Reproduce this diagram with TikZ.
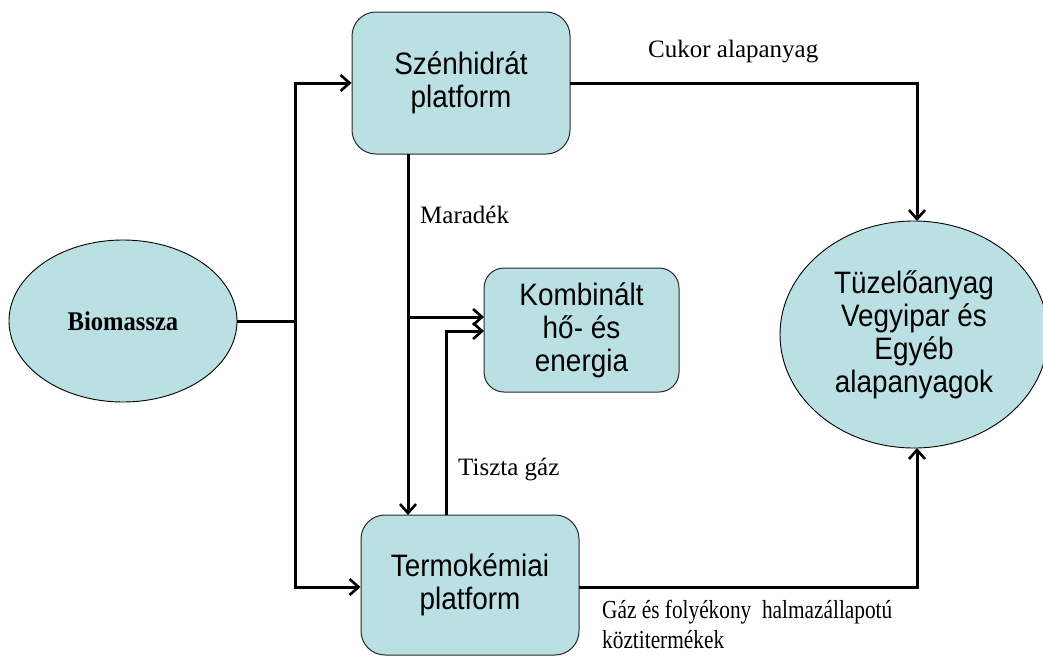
\documentclass[tikz,border=0pt]{standalone}
\usepackage{fontspec}
\setmainfont{Liberation Serif}
\newfontfamily\arialf[FakeStretch=0.9]{Liberation Sans}
\newfontfamily\condserif[FakeStretch=0.82]{Liberation Serif}
\newfontfamily\boldserif[FakeStretch=0.91]{Liberation Serif Bold}
\usetikzlibrary{arrows.meta,shapes.geometric}
\definecolor{boxfill}{RGB}{187,224,227}
\definecolor{boxline}{RGB}{40,40,40}
\tikzset{
  platbox/.style={draw=boxline, line width=1pt, fill=boxfill, rounded corners=24pt,
    align=center, inner sep=0pt, font=\arialf\fontsize{31}{33}\selectfont},
  oval/.style={ellipse, draw=black, line width=0.9pt, fill=boxfill, inner sep=0pt, align=center},
  conn/.style={line width=3pt, line join=miter},
  arr/.style={conn, -{Straight Barb[length=9pt,width=16pt,line width=2.6pt]}},
  lbl/.style={anchor=base west, inner sep=0pt, font=\fontsize{25}{29}\selectfont}
}
\begin{document}
\begin{tikzpicture}[x=1pt,y=-1pt]
\useasboundingbox (0,0) rectangle (1043,656);
% nodes
\node[oval, minimum width=228pt, minimum height=162pt, font=\boldserif\fontsize{27}{29}\selectfont] (bio) at (123,321) {Biomassza};
\node[platbox, minimum width=218pt, minimum height=142pt] (szen) at (461,83) {Szénhidrát\\platform};
\node[platbox, minimum width=195pt, minimum height=124pt, rounded corners=20pt] (komb) at (581.5,330) {Kombinált\\hő- és\\energia};
\node[platbox, minimum width=218pt, minimum height=140pt] (termo) at (470,585) {Termokémiai\\platform};
\node[oval, minimum width=268pt, minimum height=227pt, font=\arialf\fontsize{31}{33}\selectfont] (tuz) at (914,334.5) {Tüzelőanyag\\Vegyipar és\\Egyéb\\alapanyagok};
% junction coordinates
\coordinate (J) at (295,321);
\coordinate (szenS) at (408,154);
\coordinate (termoN1) at (408,515);
\coordinate (termoN2) at (446,515);
\coordinate (br1) at (408,317);
\coordinate (kombW1) at (484,317);
\coordinate (kombW2) at (484,331);
\coordinate (szenE) at (570,83);
\coordinate (termoE) at (579,587);
\coordinate (tuzN) at (917,221);
\coordinate (tuzS) at (917,448);
% connectors
\draw[conn] (bio.east) -- (J);
\draw[arr] (J) |- (szen.west);
\draw[arr] (J) |- (termo.west |- termoE);
\draw[arr] (szenE) -| (tuzN);
\draw[arr] (termoE) -| (tuzS);
\draw[arr] (szenS) -- (termoN1);
\draw[arr] (br1) -- (kombW1);
\draw[arr] (termoN2) |- (kombW2);
% labels
\node[lbl] (l1) at (648,57) {Cukor alapanyag};
\node[lbl] (l2) at (420,223) {Maradék};
\node[lbl] (l3) at (458,475) {Tiszta gáz};
\node[lbl, font=\condserif\fontsize{26}{30}\selectfont] (l4) at (602,618) {Gáz és folyékony\ \ halmazállapotú};
\node[lbl, font=\condserif\fontsize{26}{30}\selectfont] (l5) at (602,648) {köztitermékek};
\end{tikzpicture}
\end{document}
